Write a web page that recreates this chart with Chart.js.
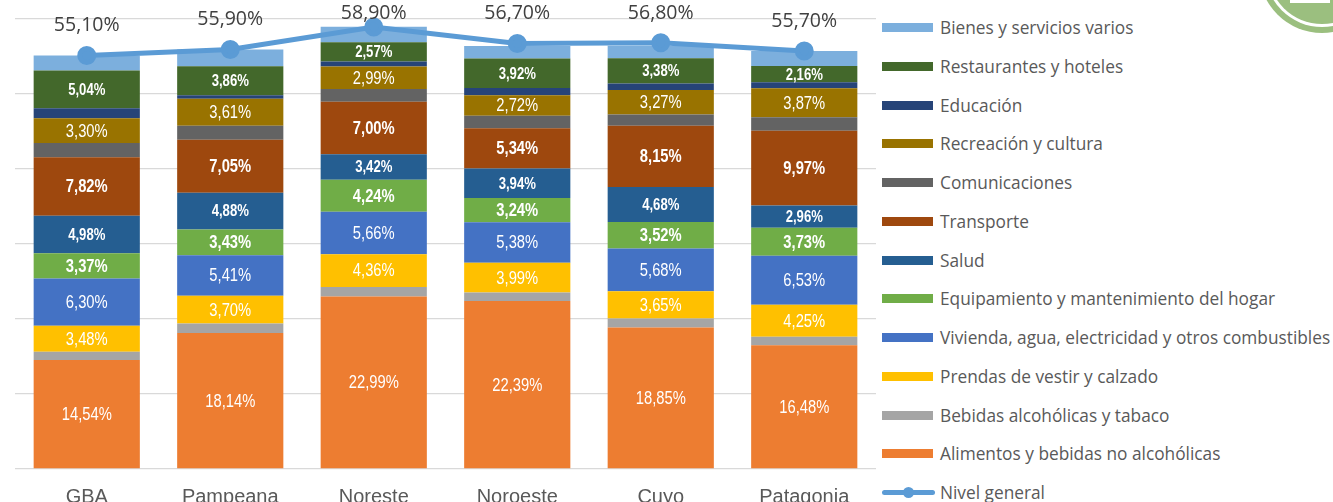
<!DOCTYPE html>
<html lang="es">
<head>
<meta charset="utf-8">
<title>Estructura del gasto por región</title>
<script src="https://cdn.jsdelivr.net/npm/chart.js@4.4.1/dist/chart.umd.min.js"></script>
<style>
  html, body { margin: 0; padding: 0; background: #fff; }
  body { width: 1333px; height: 502px; overflow: hidden; position: relative; }
  #wrap { position: absolute; left: 0; top: 0; width: 878px; height: 502px; }
  #legend { position: absolute; left: 882px; top: 0; width: 460px; font-family: "Open Sans", sans-serif; font-size: 17.3px; color: #595959; }
  #legend .row { position: absolute; left: 0; height: 20px; white-space: nowrap; }
  #legend .box { position: absolute; left: 0; top: 5px; width: 51px; height: 9px; }
  #legend .txt { position: absolute; left: 58px; top: 0; line-height: 20px; }
  #legend .ln { position: absolute; left: 0; top: 7px; width: 53px; height: 5px; border-radius: 3px; background: #5B9BD5; }
  #legend .dot { position: absolute; left: 21px; top: 4px; width: 11px; height: 11px; border-radius: 50%; background: #5B9BD5; }
  .circ { position: absolute; border-radius: 50%; }
  #logo1 { left: 1259px; top: -93px; width: 126px; height: 126px; background: #9BBF7F; }
  #logo2 { left: 1265px; top: -87px; width: 114px; height: 114px; background: #fff; }
  #logo3 { left: 1268px; top: -84px; width: 108px; height: 108px; background: #9BBF7F; }
  #logo4 { left: 1290px; top: -4px; width: 40px; height: 7px; background: #fff; border-radius: 0; }
</style>
</head>
<body>
<div id="wrap"><canvas id="chart"></canvas></div>
<div id="legend"></div>
<div class="circ" id="logo1"></div>
<div class="circ" id="logo2"></div>
<div class="circ" id="logo3"></div>
<div class="circ" id="logo4"></div>
<script>
// Participación de cada división en el gasto, por región (%)
const regions = ['GBA', 'Pampeana', 'Noreste', 'Noroeste', 'Cuyo', 'Patagonia'];

const alimentos      = [14.54, 18.14, 22.99, 22.39, 18.85, 16.48];
const bebidas        = [1.07, 1.25, 1.28, 1.12, 1.20, 1.16];
const prendas        = [3.48, 3.70, 4.36, 3.99, 3.65, 4.25];
const vivienda       = [6.30, 5.41, 5.66, 5.38, 5.68, 6.53];
const equipamiento   = [3.37, 3.43, 4.24, 3.24, 3.52, 3.73];
const salud          = [4.98, 4.88, 3.42, 3.94, 4.68, 2.96];
const transporte     = [7.82, 7.05, 7.00, 5.34, 8.15, 9.97];
const comunicaciones = [1.87, 1.87, 1.69, 1.68, 1.52, 1.79];
const recreacion     = [3.30, 3.61, 2.99, 2.72, 3.27, 3.87];
const educacion      = [1.33, 0.48, 0.67, 0.97, 0.85, 0.80];
const restaurantes   = [5.04, 3.86, 2.57, 3.92, 3.38, 2.16];
const bienes         = [2.00, 2.22, 2.05, 1.68, 1.64, 2.00];

const nivelGeneral   = [55.10, 55.90, 58.90, 56.70, 56.80, 55.70];

const yTicks = [0, 10, 20, 30, 40, 50, 60];

const fmt = (v) => v.toFixed(2).replace('.', ',') + '%';

// label: null = sin etiqueta; 'n' = normal 18px; 'b' = negrita 18px; 's' = negrita 16px
function barSet(label, data, color, lab) {
  return { type: 'bar', label, data, backgroundColor: color, borderWidth: 0, order: 1, lab };
}

const barSets = [
  barSet('Alimentos y bebidas no alcohólicas', alimentos, '#ED7D31', 'n'),
  barSet('Bebidas alcohólicas y tabaco', bebidas, '#A5A5A5', null),
  barSet('Prendas de vestir y calzado', prendas, '#FFC000', 'n'),
  barSet('Vivienda, agua, electricidad y otros combustibles', vivienda, '#4472C4', 'n'),
  barSet('Equipamiento y mantenimiento del hogar', equipamiento, '#70AD47', 'b'),
  barSet('Salud', salud, '#255E91', 's'),
  barSet('Transporte', transporte, '#9E480E', 'b'),
  barSet('Comunicaciones', comunicaciones, '#636363', null),
  barSet('Recreación y cultura', recreacion, '#997300', 'n'),
  barSet('Educación', educacion, '#264478', null),
  barSet('Restaurantes y hoteles', restaurantes, '#43682B', 's'),
  barSet('Bienes y servicios varios', bienes, '#7CAFDD', null)
];

const lineSet = {
  type: 'line', label: 'Nivel general', data: nivelGeneral, stack: 'line', order: 0,
  borderColor: '#5B9BD5', backgroundColor: '#5B9BD5', borderWidth: 5,
  pointRadius: 7, pointHoverRadius: 7, tension: 0, lab: 'line'
};

// etiquetas de valor dibujadas a mano (no hay plugin de datalabels)
// Arial Narrow no está: se usa Liberation Sans comprimida al 82%
function narrowText(ctx, text, x, y) {
  ctx.save();
  ctx.translate(x, y);
  ctx.scale(0.82, 1);
  ctx.fillText(text, 0, 0);
  ctx.restore();
}

const valueLabels = {
  id: 'valueLabels',
  afterDatasetsDraw(chart) {
    const ctx = chart.ctx;
    ctx.save();
    ctx.textAlign = 'center';
    ctx.textBaseline = 'middle';
    chart.data.datasets.forEach((ds, di) => {
      if (!ds.lab) return;
      const meta = chart.getDatasetMeta(di);
      meta.data.forEach((el, i) => {
        const v = ds.data[i];
        if (ds.lab === 'line') {
          ctx.font = '19.5px "Open Sans", sans-serif';
          ctx.fillStyle = '#404040';
          ctx.fillText(fmt(v), el.x, Math.max(el.y - 30, 13));
          return;
        }
        const { x, y, base } = el.getProps(['x', 'y', 'base'], true);
        if (ds.lab === 'n') ctx.font = '18px "Liberation Sans", Arial, sans-serif';
        else if (ds.lab === 'b') ctx.font = 'bold 18px "Liberation Sans", Arial, sans-serif';
        else ctx.font = 'bold 16px "Liberation Sans", Arial, sans-serif';
        ctx.fillStyle = '#FFFFFF';
        narrowText(ctx, fmt(v), x, (y + base) / 2 + 1);
      });
    });
    ctx.restore();
  }
};

const chart = new Chart(document.getElementById('chart'), {
  data: { labels: regions, datasets: [...barSets, lineSet] },
  options: {
    responsive: true,
    maintainAspectRatio: false,
    animation: false,
    layout: { autoPadding: false, padding: { left: 15, right: 2, top: 0, bottom: 0 } },
    plugins: { legend: { display: false }, tooltip: { enabled: false } },
    datasets: { bar: { barPercentage: 0.74, categoryPercentage: 1 } },
    scales: {
      x: {
        stacked: true,
        grid: { display: false },
        border: { display: false },
        ticks: { color: '#595959', font: { family: '"Liberation Sans", Arial, sans-serif', size: 20 }, padding: 8 },
        afterFit: (s) => { s.height = 33; }
      },
      y: {
        stacked: true,
        min: 0,
        max: 62.5,
        afterBuildTicks: (s) => { s.ticks = yTicks.map((v) => ({ value: v })); },
        grid: { color: '#D9D9D9', lineWidth: 1.3, drawTicks: false },
        border: { display: false },
        ticks: { display: false },
        afterFit: (s) => { s.width = 0; }
      }
    }
  },
  plugins: [valueLabels]
});

// leyenda en HTML, armada desde los datasets del gráfico
const legendEl = document.getElementById('legend');
const legendItems = [...barSets].reverse().concat([lineSet]);
legendItems.forEach((ds, i) => {
  const row = document.createElement('div');
  row.className = 'row';
  row.style.top = (18 + i * 38.75) + 'px';
  if (ds.type === 'line') {
    row.innerHTML = '<span class="ln"></span><span class="dot"></span><span class="txt">' + ds.label + '</span>';
  } else {
    row.innerHTML = '<span class="box" style="background:' + ds.backgroundColor + '"></span><span class="txt">' + ds.label + '</span>';
  }
  legendEl.appendChild(row);
});
</script>
</body>
</html>
